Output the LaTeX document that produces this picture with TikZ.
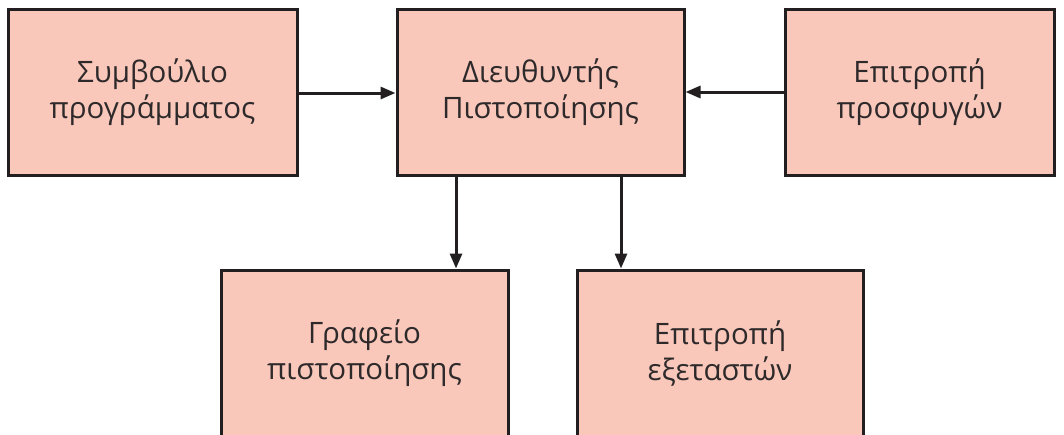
\documentclass[tikz,border=0pt]{standalone}
\usepackage{fontspec}
\setmainfont{Open Sans}
\usetikzlibrary{arrows.meta}
\definecolor{boxfill}{HTML}{F9C8BA}
\definecolor{ink}{HTML}{231F20}
\definecolor{txt}{HTML}{2E292A}
\tikzset{
  orgbox/.style={draw=ink, line width=3pt, fill=boxfill, text=txt, align=center,
    minimum height=166pt, inner sep=0pt,
    font=\fontsize{29.5}{36}\selectfont},
  conn/.style={draw=ink, line width=3pt, -{Triangle[length=15pt,width=12pt]}}
}
\begin{document}
\begin{tikzpicture}[x=1pt,y=-1pt]
\useasboundingbox (0,0) rectangle (1064,434);
\fill[white] (0,0) rectangle (1064,434);
\node[orgbox, minimum width=289pt] (b1) at (152.5,92) {Συμβούλιο\\προγράμματος};
\node[orgbox, minimum width=287pt] (b2) at (540.5,92) {Διευθυντής\\Πιστοποίησης};
\node[orgbox, minimum width=269pt] (b3) at (919.5,92) {Επιτροπή\\προσφυγών};
\node[orgbox, minimum width=287pt] (b4) at (364.5,353) {Γραφείο\\πιστοποίησης};
\node[orgbox, minimum width=286pt] (b5) at (720,353) {Επιτροπή\\εξεταστών};
\draw[conn] (b1.east |- 0,93) -- (b2.west |- 0,93);
\draw[conn] (b3.west |- 0,92) -- (b2.east |- 0,92);
\draw[conn] (b2.south -| 456,0) -- (b4.north -| 456,0);
\draw[conn] (b2.south -| 621,0) -- (b5.north -| 621,0);
\end{tikzpicture}
\end{document}
